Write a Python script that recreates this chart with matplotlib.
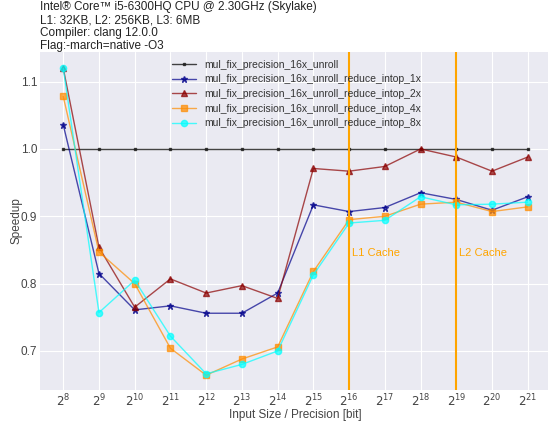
import numpy as np
import matplotlib
matplotlib.use('Agg')
import matplotlib.pyplot as plt

# input sizes as powers of two
exponents = list(range(8, 22))
sizes = [2 ** e for e in exponents]

unroll = [1.0] * 14
intop_1x = [1.036, 0.815, 0.761, 0.767, 0.756, 0.756, 0.786, 0.917, 0.907, 0.913, 0.935, 0.925, 0.909, 0.929]
intop_2x = [1.120, 0.854, 0.765, 0.807, 0.786, 0.797, 0.778, 0.971, 0.967, 0.974, 1.000, 0.988, 0.967, 0.988]
intop_4x = [1.078, 0.847, 0.800, 0.704, 0.664, 0.688, 0.706, 0.818, 0.895, 0.900, 0.918, 0.921, 0.907, 0.914]
intop_8x = [1.120, 0.757, 0.805, 0.722, 0.666, 0.680, 0.700, 0.813, 0.890, 0.894, 0.929, 0.917, 0.918, 0.921]

l1_bits = 2 ** 16
l2_bits = 2 ** 19

plt.style.use('seaborn-v0_8-darkgrid')
plt.rcParams['font.family'] = ['Liberation Sans', 'DejaVu Sans']

fig = plt.figure(figsize=(5.48, 4.21), dpi=100)
ax = fig.add_axes([40 / 548, 1 - 390 / 421, 511 / 548, 338 / 421])

ax.plot(sizes, unroll, color='#222222', marker='s', markersize=2, linewidth=1, alpha=0.85,
        label='mul_fix_precision_16x_unroll')
ax.plot(sizes, intop_1x, color='darkblue', marker='*', markersize=4.5, linewidth=1, alpha=0.7,
        label='mul_fix_precision_16x_unroll_reduce_intop_1x')
ax.plot(sizes, intop_2x, color='darkred', marker='^', markersize=4.5, linewidth=1, alpha=0.7,
        label='mul_fix_precision_16x_unroll_reduce_intop_2x')
ax.plot(sizes, intop_4x, color='darkorange', marker='s', markersize=4.5, linewidth=1, alpha=0.7,
        label='mul_fix_precision_16x_unroll_reduce_intop_4x')
ax.plot(sizes, intop_8x, color='cyan', marker='o', markersize=4.5, linewidth=1, alpha=0.7,
        label='mul_fix_precision_16x_unroll_reduce_intop_8x')

ax.axvline(l1_bits, color='orange', linewidth=1.5)
ax.axvline(l2_bits, color='orange', linewidth=1.5)
ax.text(l1_bits * 1.05, 0.845, 'L1 Cache', color='orange', fontsize=8, va='center')
ax.text(l2_bits * 1.05, 0.845, 'L2 Cache', color='orange', fontsize=8, va='center')

ax.set_xscale('log', base=2)
ax.set_xticks(sizes)
ax.set_xticklabels([r'$2^{%d}$' % e for e in exponents])
ax.minorticks_off()
ax.tick_params(labelsize=8.5, colors='#444444', pad=2)
ax.set_xlabel('Input Size / Precision [bit]', fontsize=8.5, color='#444444', labelpad=0)
ax.set_ylabel('Speedup', fontsize=8.5, color='#444444', labelpad=-1)
ax.set_xlim(2 ** 7.35, 2 ** 21.65)
ax.set_ylim(0.642, 1.144)

ax.legend(loc='upper left', bbox_to_anchor=(0.24, 1.005), fontsize=7.5, frameon=False,
          handlelength=2.3, labelspacing=0.45, labelcolor='#333333')

fig.text(40 / 548, 1 - 1 / 421,
         'Intel® Core™ i5-6300HQ CPU @ 2.30GHz (Skylake)\nL1: 32KB, L2: 256KB, L3: 6MB\n'
         'Compiler: clang 12.0.0\nFlag:-march=native -O3',
         fontsize=8.5, va='top', ha='left', linespacing=1.12, color='#222222')

fig.savefig('out.png', dpi=100)
